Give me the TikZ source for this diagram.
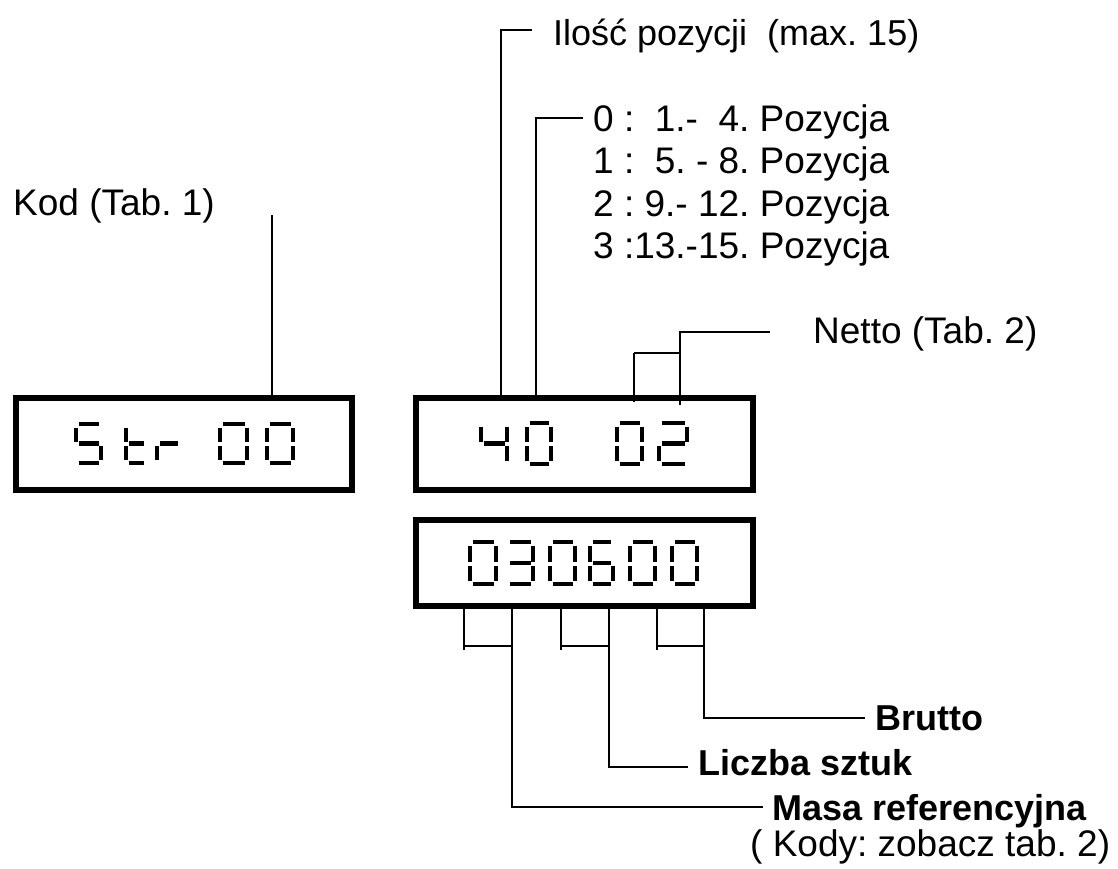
\documentclass[tikz,border=0pt]{standalone}
\usepackage{fontspec}
\setmainfont{Liberation Sans}
\frenchspacing
\tikzset{
  x=1pt, y=-1pt,
  conn/.style={line width=1.8pt, line cap=butt},
  dispbox/.style={draw, line width=6pt, rectangle, inner sep=0pt, outer sep=0pt},
  lbl/.style={anchor=base west, inner sep=0pt, font=\fontsize{37}{42}\selectfont},
  blbl/.style={lbl, font=\fontsize{36}{42}\selectfont\bfseries},
  segline/.style={line width=4.2pt, line cap=butt},
  sega/.style 2 args={insert path={(2.5,0)--({#1-2.5},0)}},
  segb/.style 2 args={insert path={(#1,3.5)--(#1,{#2/2-1.5})}},
  segc/.style 2 args={insert path={(#1,{#2/2+2.5})--(#1,{#2-3.5})}},
  segd/.style 2 args={insert path={(2.5,#2)--({#1-2.5},#2)}},
  sege/.style 2 args={insert path={(0,{#2/2+2.5})--(0,{#2-3.5})}},
  segf/.style 2 args={insert path={(0,3.5)--(0,{#2/2-1.5})}},
  segg/.style 2 args={insert path={(2.5,{#2/2})--({#1-2.5},{#2/2})}},
}
\newcommand\sevdig[5]{%
  \begin{scope}[shift={(#1,#2)}]
    \foreach \s in {#5} {\draw[segline, seg\s={#3}{#4}];}
  \end{scope}}
\begin{document}
\begin{tikzpicture}
\useasboundingbox (0,0) rectangle (1118,868);

% display boxes
\node[dispbox, minimum width=336pt, minimum height=92pt] (d1) at (184,444) {};
\node[dispbox, minimum width=337pt, minimum height=92pt] (d2) at (584.5,444) {};
\node[dispbox, minimum width=337pt, minimum height=86pt] (d3) at (584.5,563) {};

% display 1: Str 00
\sevdig{76}{424}{25}{39}{a,f,g,c,d}
\sevdig{126}{424}{20}{39}{f,e,g,d}
\sevdig{157}{424}{23}{39}{e,g}
\sevdig{220}{424}{27}{39}{a,b,c,d,e,f}
\sevdig{267}{424}{26}{39}{a,b,c,d,e,f}

% display 2: 40 02
\sevdig{481}{423}{26}{41}{f,g,b,c}
\sevdig{527}{423}{24}{41}{a,b,c,d,e,f}
\sevdig{617}{423}{25}{41}{a,b,c,d,e,f}
\sevdig{659}{423}{28}{41}{a,b,g,e,d}

% display 3: 030600
\sevdig{470}{542}{26}{42}{a,b,c,d,e,f}
\sevdig{507}{542}{26}{42}{a,b,g,c,d}
\sevdig{550}{542}{25}{42}{a,b,c,d,e,f}
\sevdig{590}{542}{23}{42}{a,f,g,e,c,d}
\sevdig{630}{542}{25}{42}{a,b,c,d,e,f}
\sevdig{672}{542}{25}{42}{a,b,c,d,e,f}

% labels
\node[lbl] (kod) at (13,215) {Kod (Tab. 1)};
\node[lbl, font=\fontsize{36}{42}\selectfont] (ilosc) at (553,45) {Ilość pozycji\ \ (max. 15)};
\node[lbl] (p0) at (593,131) {0 :\ \ 1.-\ \ 4. Pozycja};
\node[lbl] (p1) at (593,173) {1 :\ \ 5. - 8. Pozycja};
\node[lbl] (p2) at (593,216) {2 : 9.- 12. Pozycja};
\node[lbl] (p3) at (593,258) {3 :13.-15. Pozycja};
\node[lbl] (netto) at (813,343) {Netto (Tab. 2)};
\node[blbl] (brutto) at (875,730) {Brutto};
\node[blbl] (liczba) at (698,775) {Liczba sztuk};
\node[blbl] (masa) at (772,820) {Masa referencyjna};
\node[lbl] (kody) at (750,856) {( Kody: zobacz tab. 2)};

% connector points
\coordinate (k0) at (272,215);
\coordinate (i1) at (532,30);
\coordinate (i0) at (501,30);
\coordinate (q1) at (583,118);
\coordinate (q0) at (536,118);
\coordinate (n2) at (770,332);
\coordinate (n1) at (680,332);
\coordinate (n0) at (634,353);
\coordinate (mb) at (763,807);
\coordinate (lb) at (688,767);
\coordinate (bb) at (865,718);

% connectors
\draw[conn] (k0) -- (k0 |- d1.north);
\draw[conn] (i1) -- (i0) -- (i0 |- d2.north);
\draw[conn] (q1) -- (q0) -- (q0 |- d2.north);
\draw[conn] (n2) -- (n1) -- ([yshift=-7pt]n1 |- d2.north);
\draw[conn] (n0) -- (n0 -| n1);
\draw[conn] (n0) -- ([yshift=-4pt]n0 |- d2.north);

\coordinate (s1) at (464,650);
\coordinate (s2) at (561,650);
\coordinate (s3) at (657,650);
\draw[conn] (s1 |- d3.south) -- (s1);
\draw[conn] (s2 |- d3.south) -- (s2);
\draw[conn] (s3 |- d3.south) -- (s3);
\draw[conn] (464,646) -- (512,646);
\draw[conn] (561,646) -- (609,646);
\draw[conn] (657,646) -- (704,646);
\draw[conn] (512,606) -- (512,807) -- (mb);
\draw[conn] (609,606) -- (609,767) -- (lb);
\draw[conn] (704,606) -- (704,718) -- (bb);
\end{tikzpicture}
\end{document}
